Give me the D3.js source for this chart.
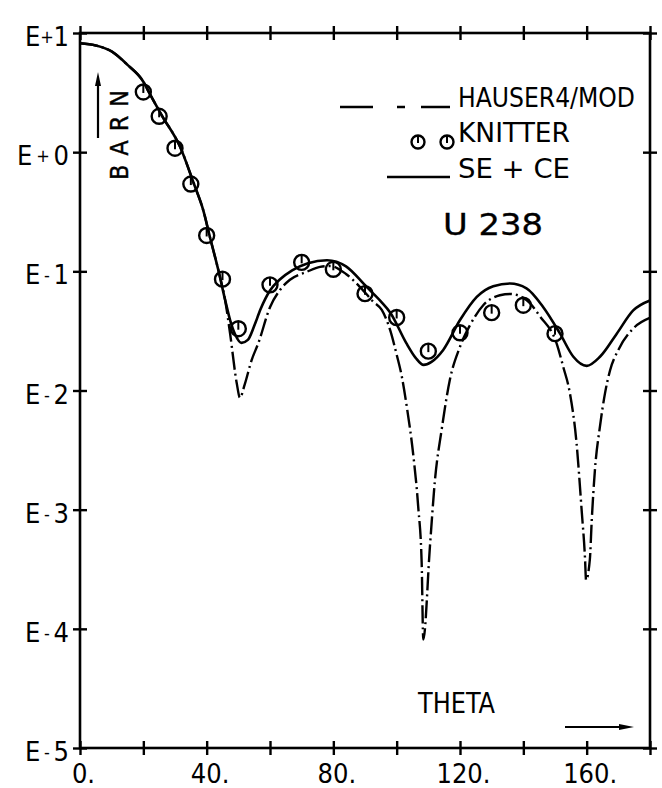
<!DOCTYPE html>
<html>
<head>
<meta charset="utf-8">
<script src="https://cdn.jsdelivr.net/npm/d3@7"></script>
<style>
  body { margin: 0; background: #fff; }
  svg { display: block; }
  text { font-family: 'DejaVu Sans Condensed', 'Liberation Sans Narrow', 'DejaVu Sans', sans-serif; fill: #000; }
</style>
</head>
<body>
<div id="chart"></div>
<script>
// SE + CE (solid curve), theta in degrees, sigma in barn
const seTheta = [0, 5, 10, 15, 20, 22, 26, 31.6, 36, 39, 41, 43.7, 45.8, 47.4, 49, 51, 53, 55, 57, 60, 63, 67, 72, 78, 84,
  90.5, 95, 98, 103, 106, 108.5, 111, 114.7, 120, 125.3, 130.5, 135.8, 141, 146.3, 151.6, 155.8, 160, 164.2, 169.5, 174.7, 180];
const seSigma = [8.2, 7.85, 7.0, 5.4, 3.9, 3.1, 2.0, 1.11, 0.54, 0.32, 0.195, 0.102, 0.058, 0.039, 0.0295, 0.0251, 0.0266, 0.0347, 0.048, 0.069, 0.085, 0.102, 0.117, 0.124, 0.11,
  0.074, 0.056, 0.045, 0.0251, 0.0188, 0.0164, 0.0174, 0.0219, 0.039, 0.061, 0.075, 0.079, 0.072, 0.050, 0.030, 0.0192, 0.0161, 0.0192, 0.030, 0.047, 0.057];

// HAUSER4/MOD (dash-dot curve)
const hauserTheta = [0, 5, 10, 15, 20, 22, 26, 31.6, 36, 39, 41, 43.7, 46, 47.4, 49.5, 50.5, 52, 54.2, 56.3, 60, 63.2, 66.3, 71.6, 75.8, 79, 84, 88,
  92.6, 95.3, 97.9, 100, 101.6, 103.2, 105.3, 106.8, 107.9, 108.4, 110.5, 112.1, 114.2, 116.8, 120, 123.2, 127.4, 132.6, 135.8, 141, 145.3,
  150.5, 152.6, 154.7, 156.8, 158.4, 159.5, 159.8, 161, 161.6, 162.6, 164.2, 165.8, 167.4, 170, 174.7, 180];
const hauserSigma = [8.2, 7.85, 7.0, 5.4, 3.9, 3.1, 2.0, 1.11, 0.54, 0.32, 0.195, 0.102, 0.054, 0.030, 0.0115, 0.0087, 0.0112, 0.018, 0.0249, 0.050, 0.070, 0.085, 0.099, 0.109, 0.111, 0.095, 0.076,
  0.0556, 0.0474, 0.0324, 0.020, 0.0132, 0.0073, 0.00279, 0.00106, 0.000355, 0.0000813, 0.00049, 0.00178, 0.00468, 0.0123, 0.0233, 0.0355, 0.0522, 0.063, 0.0646, 0.0575, 0.0417,
  0.0249, 0.0158, 0.0095, 0.00363, 0.001, 0.00038, 0.000257, 0.00038, 0.00081, 0.00214, 0.0050, 0.0095, 0.0148, 0.0219, 0.0331, 0.0407];

// KNITTER measured points
const knitterTheta = [20, 25, 30, 35, 40, 45, 50, 60, 70, 80, 90, 100, 110, 120, 130, 140, 150];
const knitterSigma = [3.2, 2.0, 1.08, 0.54, 0.20, 0.086, 0.033, 0.077, 0.119, 0.104, 0.065, 0.041, 0.0214, 0.0305, 0.045, 0.052, 0.030];

// axis ticks
const xTicks = [0, 20, 40, 60, 80, 100, 120, 140, 160, 180];
const xTickLabels = ['0.', '', '40.', '', '80.', '', '120.', '', '160.', ''];
const yTickExp = [1, 0, -1, -2, -3, -4, -5];

const width = 662, height = 788;
const m = { left: 80, right: 650, top: 33, bottom: 748 };

const svg = d3.select('#chart').append('svg')
  .attr('width', width)
  .attr('height', height);

const x = d3.scaleLinear().domain([0, 180]).range([m.left, m.right]);
const y = d3.scaleLog().domain([1e-5, 10]).range([m.bottom, m.top]);

// frame
svg.append('rect')
  .attr('x', m.left).attr('y', m.top)
  .attr('width', m.right - m.left).attr('height', m.bottom - m.top)
  .attr('fill', 'none').attr('stroke', '#000').attr('stroke-width', 2.6);

// crossing ticks on every side
function crossTicks(g, dir) {
  g.select('.domain').remove();
  g.selectAll('.tick line').attr('stroke', '#000').attr('stroke-width', 2.4);
  if (dir === 'h') g.selectAll('.tick line').attr('y1', -7).attr('y2', 7);
  else g.selectAll('.tick line').attr('x1', -7).attr('x2', 7);
}

const xAxisBottom = d3.axisBottom(x).tickValues(xTicks).tickSize(7)
  .tickFormat((d, i) => xTickLabels[i]);
const gxb = svg.append('g').attr('transform', `translate(0,${m.bottom})`).call(xAxisBottom);
crossTicks(gxb, 'h');
gxb.attr('font-family', null).attr('font-size', null);
gxb.selectAll('.tick text')
  .attr('y', 35).attr('dy', 0).attr('dx', 3)
  .attr('font-size', 27);

const gxt = svg.append('g').attr('transform', `translate(0,${m.top})`)
  .call(d3.axisTop(x).tickValues(xTicks).tickSize(7).tickFormat(''));
crossTicks(gxt, 'h');

const yVals = yTickExp.map(e => Math.pow(10, e));
const gyl = svg.append('g').attr('transform', `translate(${m.left},0)`)
  .call(d3.axisLeft(y).tickValues(yVals).tickSize(7).tickFormat(''));
crossTicks(gyl, 'v');
const gyr = svg.append('g').attr('transform', `translate(${m.right},0)`)
  .call(d3.axisRight(y).tickValues(yVals).tickSize(7).tickFormat(''));
crossTicks(gyr, 'v');

// y labels like E+1, E-2 with a small sign
const yl = svg.append('g').selectAll('text')
  .data(yTickExp).enter()
  .append('text')
  .attr('x', m.left - 11)
  .attr('y', d => y(Math.pow(10, d)) + 13)
  .attr('text-anchor', 'end')
  .attr('font-size', 27)
  .attr('textLength', d => d === 0 ? 52 : 44)
  .attr('lengthAdjust', 'spacing');
yl.append('tspan').text('E');
yl.append('tspan').attr('font-size', 18).attr('dy', -3).text(d => d >= 0 ? '+' : '-');
yl.append('tspan').attr('dy', 3).text(d => Math.abs(d));

// curves
const line = d3.line()
  .x(d => x(d[0]))
  .y(d => y(d[1]))
  .curve(d3.curveMonotoneX);

svg.append('path')
  .datum(seTheta.map((t, i) => [t, seSigma[i]]))
  .attr('d', line)
  .attr('fill', 'none').attr('stroke', '#000').attr('stroke-width', 2.6);

svg.append('path')
  .datum(hauserTheta.map((t, i) => [t, hauserSigma[i]]))
  .attr('d', line)
  .attr('fill', 'none').attr('stroke', '#000').attr('stroke-width', 2.4)
  .attr('stroke-dasharray', '18,4,2,4');

// knitter circles with small tick
function marker(g, cx, cy, r) {
  g.append('circle').attr('cx', cx).attr('cy', cy).attr('r', r)
    .attr('fill', 'none').attr('stroke', '#000').attr('stroke-width', 2.4);
  g.append('line').attr('x1', cx).attr('x2', cx).attr('y1', cy - r).attr('y2', cy + 1)
    .attr('stroke', '#000').attr('stroke-width', 2);
}
const pts = svg.append('g');
knitterTheta.forEach((t, i) => marker(pts, x(t), y(knitterSigma[i]), 7.5));

// legend
svg.append('line').attr('x1', 340).attr('x2', 450).attr('y1', 107).attr('y2', 107)
  .attr('stroke', '#000').attr('stroke-width', 2.6).attr('stroke-dasharray', '33,24,8,16');
svg.append('text').attr('x', 458).attr('y', 107).attr('font-size', 27)
  .attr('textLength', 177).attr('lengthAdjust', 'spacingAndGlyphs').text('HAUSER4/MOD');

marker(svg, 418, 142, 6.5);
marker(svg, 447, 142, 6.5);
svg.append('text').attr('x', 458).attr('y', 142).attr('font-size', 26)
  .attr('textLength', 112).attr('lengthAdjust', 'spacingAndGlyphs').text('KNITTER');

svg.append('line').attr('x1', 387).attr('x2', 450).attr('y1', 177).attr('y2', 177)
  .attr('stroke', '#000').attr('stroke-width', 2.6);
svg.append('text').attr('x', 458).attr('y', 178).attr('font-size', 26)
  .attr('textLength', 112).attr('lengthAdjust', 'spacingAndGlyphs').attr('xml:space', 'preserve').text('SE + CE');

svg.append('text').attr('x', 443).attr('y', 235).attr('font-size', 31)
  .attr('stroke', '#000').attr('stroke-width', 0.3)
  .attr('textLength', 100).attr('lengthAdjust', 'spacingAndGlyphs').text('U 238');

// axis titles with arrows
svg.append('text')
  .attr('transform', 'translate(128,135) rotate(-90)')
  .attr('text-anchor', 'middle').attr('font-size', 25)
  .attr('stroke', '#000').attr('stroke-width', 0.4)
  .attr('textLength', 90).attr('lengthAdjust', 'spacing').text('BARN');
svg.append('line').attr('x1', 98).attr('x2', 98).attr('y1', 138).attr('y2', 82)
  .attr('stroke', '#000').attr('stroke-width', 2.2);
svg.append('path').attr('d', 'M98,72 L95,86 L101,86 Z').attr('fill', '#000');

svg.append('text').attr('x', 418).attr('y', 713).attr('font-size', 28)
  .attr('textLength', 77).attr('lengthAdjust', 'spacingAndGlyphs').text('THETA');
svg.append('line').attr('x1', 565).attr('x2', 622).attr('y1', 727).attr('y2', 727)
  .attr('stroke', '#000').attr('stroke-width', 2.2);
svg.append('path').attr('d', 'M634,727 L619,724 L619,730 Z').attr('fill', '#000');
</script>
</body>
</html>
